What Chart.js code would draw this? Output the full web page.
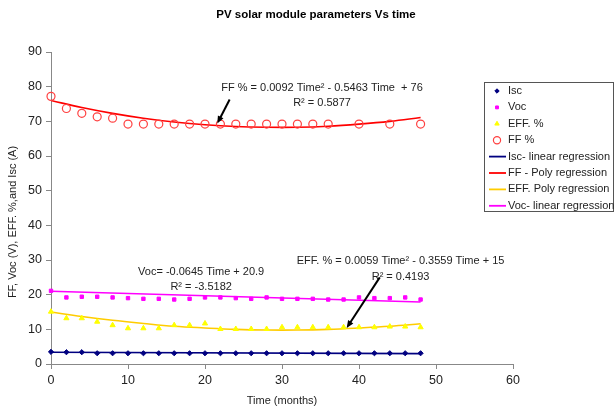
<!DOCTYPE html>
<html>
<head>
<meta charset="utf-8">
<script src="https://cdn.jsdelivr.net/npm/chart.js@4/dist/chart.umd.min.js"></script>
<style>
  html, body { margin: 0; padding: 0; background: #fff; }
  #wrap { width: 614px; height: 410px; position: relative; }
</style>
</head>
<body>
<div id="wrap"><canvas id="pvChart"></canvas></div>
<script>
// time (months)
const timeAll = [0, 2, 4, 6, 8, 10, 12, 14, 16, 18, 20, 22, 24, 26, 28, 30, 32, 34, 36, 38, 40, 42, 44, 46, 48];
const timeFF = [0, 2, 4, 6, 8, 10, 12, 14, 16, 18, 20, 22, 24, 26, 28, 30, 32, 34, 36, 40, 44, 48];

// measured values
const iscValues = [3.5, 3.4, 3.4, 3.1, 3.1, 3.1, 3.1, 3.1, 3.1, 3.1, 3.1, 3.1, 3.1, 3.1, 3.1, 3.1, 3.1, 3.1, 3.1, 3.1, 3.1, 3.1, 3.1, 3.1, 3.1];
const vocValues = [21.1, 19.2, 19.4, 19.4, 19.2, 19.0, 18.8, 18.8, 18.6, 18.8, 19.2, 19.2, 19.0, 18.8, 19.2, 18.8, 18.8, 18.8, 18.6, 18.6, 19.2, 19.0, 19.0, 19.2, 18.6];
const effValues = [15.1, 13.2, 13.2, 12.2, 11.2, 10.3, 10.3, 10.3, 11.2, 11.2, 11.7, 10.1, 10.1, 10.1, 10.1, 10.6, 10.6, 10.6, 10.6, 10.6, 10.6, 10.6, 10.8, 10.8, 10.6];
const ffValues = [77.2, 73.7, 72.3, 71.3, 70.9, 69.2, 69.2, 69.2, 69.2, 69.2, 69.2, 69.2, 69.2, 69.2, 69.2, 69.2, 69.2, 69.2, 69.2, 69.2, 69.2, 69.2];

// trend lines
const trendTime = [0, 4, 8, 12, 16, 20, 24, 28, 32, 36, 40, 44, 48];
const ffTrend = [76, 74, 72.3, 70.9, 69.8, 69, 68.5, 68.3, 68.3, 68.6, 69.2, 70, 71.1];
const effTrend = [15, 13.7, 12.6, 11.7, 10.9, 10.4, 10.0, 9.8, 9.8, 10.0, 10.4, 10.9, 11.6];
const linTime = [0, 48];
const iscTrend = [3.4, 3.0];
const vocTrend = [21.0, 17.9];

const FONT = "'Liberation Sans', Arial, sans-serif";

function pts(xs, ys) {
    return xs.map((x, i) => ({ x: x, y: ys[i] }));
}

const datasets = [
    { label: 'Isc', data: pts(timeAll, iscValues), pointStyle: 'rectRot', pointRadius: 2.6,
      backgroundColor: '#000080', borderColor: '#000080', borderWidth: 1, showLine: false, clip: false },
    { label: 'Voc', data: pts(timeAll, vocValues), pointStyle: 'rect', pointRadius: 2.4,
      backgroundColor: '#FF00FF', borderColor: '#FF00FF', borderWidth: 1, showLine: false, clip: false },
    { label: 'EFF. %', data: pts(timeAll, effValues), pointStyle: 'triangle', pointRadius: 3,
      backgroundColor: '#FFFF00', borderColor: '#FFFF00', borderWidth: 1, showLine: false, clip: false },
    { label: 'FF %', data: pts(timeFF, ffValues), pointStyle: 'circle', pointRadius: 4,
      backgroundColor: 'rgba(0,0,0,0)', borderColor: '#FF4040', borderWidth: 1.2, showLine: false, clip: false },
    { label: 'Isc- linear regression', data: pts(linTime, iscTrend), showLine: true, pointRadius: 0,
      borderColor: '#000080', borderWidth: 1.6, isLine: true },
    { label: 'FF - Poly regression', data: pts(trendTime, ffTrend), showLine: true, pointRadius: 0,
      borderColor: '#FF0000', borderWidth: 1.6, tension: 0.4, isLine: true },
    { label: 'EFF. Poly regression', data: pts(trendTime, effTrend), showLine: true, pointRadius: 0,
      borderColor: '#FFCC00', borderWidth: 1.6, tension: 0.4, isLine: true },
    { label: 'Voc- linear regression', data: pts(linTime, vocTrend), showLine: true, pointRadius: 0,
      borderColor: '#FF00FF', borderWidth: 1.6, isLine: true }
];

function arrow(ctx, x1, y1, x2, y2) {
    const ang = Math.atan2(y2 - y1, x2 - x1);
    const head = 8;
    ctx.save();
    ctx.strokeStyle = '#000';
    ctx.fillStyle = '#000';
    ctx.lineWidth = 2;
    ctx.beginPath();
    ctx.moveTo(x1, y1);
    ctx.lineTo(x2 - Math.cos(ang) * head * 0.7, y2 - Math.sin(ang) * head * 0.7);
    ctx.stroke();
    ctx.beginPath();
    ctx.moveTo(x2, y2);
    ctx.lineTo(x2 - head * Math.cos(ang - 0.4), y2 - head * Math.sin(ang - 0.4));
    ctx.lineTo(x2 - head * Math.cos(ang + 0.4), y2 - head * Math.sin(ang + 0.4));
    ctx.closePath();
    ctx.fill();
    ctx.restore();
}

const extras = {
    id: 'extras',
    afterDraw(chart) {
        const ctx = chart.ctx;
        const xs = chart.scales.x, ys = chart.scales.y;
        const X = v => xs.getPixelForValue(v), Y = v => ys.getPixelForValue(v);

        ctx.save();
        // title
        ctx.fillStyle = '#000';
        ctx.font = 'bold 11.5px ' + FONT;
        ctx.textAlign = 'center';
        ctx.textBaseline = 'middle';
        ctx.fillText('PV solar module parameters Vs time', 316, 15);

        // y title
        ctx.save();
        ctx.translate(13, 222);
        ctx.rotate(-Math.PI / 2);
        ctx.font = '11px ' + FONT;
        ctx.fillStyle = '#222';
        ctx.fillText('FF, Voc (V), EFF. %,and Isc (A)', 0, 0);
        ctx.restore();

        // equations
        ctx.font = '11px ' + FONT;
        ctx.fillStyle = '#222';
        ctx.fillText('FF % = 0.0092 Time² - 0.5463 Time  + 76', X(35.2), Y(79.6));
        ctx.fillText('R² = 0.5877', X(35.2), Y(75.2));
        ctx.fillText('Voc= -0.0645 Time + 20.9', X(19.5), Y(26.6));
        ctx.fillText('R² = -3.5182', X(19.5), Y(22.3));
        ctx.fillText('EFF. % = 0.0059 Time² - 0.3559 Time + 15', X(45.4), Y(29.8));
        ctx.fillText('R² = 0.4193', X(45.4), Y(25.2));

        arrow(ctx, X(23.2), Y(76.3), X(21.6), Y(69.4));
        arrow(ctx, X(42.7), Y(25.0), X(38.4), Y(10.4));

        // legend
        const lx = 484, ly = 82, lw = 129, lh = 129;
        ctx.fillStyle = '#fff';
        ctx.fillRect(lx, ly, lw, lh);
        ctx.strokeStyle = '#555';
        ctx.lineWidth = 1;
        ctx.strokeRect(lx + 0.5, ly + 0.5, lw, lh);
        ctx.textAlign = 'left';
        ctx.font = '11px ' + FONT;
        chart.data.datasets.forEach((ds, i) => {
            const cy = 91 + i * 16.4;
            if (ds.isLine) {
                ctx.strokeStyle = ds.borderColor;
                ctx.lineWidth = 1.8;
                ctx.beginPath();
                ctx.moveTo(489, cy);
                ctx.lineTo(506, cy);
                ctx.stroke();
            } else {
                ctx.fillStyle = ds.backgroundColor;
                ctx.strokeStyle = ds.borderColor;
                ctx.lineWidth = ds.borderWidth;
                Chart.helpers.drawPoint(ctx, {
                    pointStyle: ds.pointStyle,
                    radius: ds.pointStyle === 'circle' ? 3.6 : ds.pointRadius * 0.85,
                    borderWidth: ds.borderWidth
                }, 497, cy);
            }
            ctx.fillStyle = '#222';
            ctx.fillText(ds.label, 508, cy);
        });
        ctx.restore();
    }
};

new Chart(document.getElementById('pvChart'), {
    type: 'scatter',
    data: { datasets: datasets },
    plugins: [extras],
    options: {
        responsive: true,
        maintainAspectRatio: false,
        animation: false,
        layout: { padding: { left: 0, right: 101, top: 52, bottom: 0 } },
        plugins: { legend: { display: false }, tooltip: { enabled: false }, title: { display: false } },
        scales: {
            x: {
                type: 'linear', min: 0, max: 60,
                afterFit: s => { s.height = 46; },
                ticks: { stepSize: 10, color: '#222', font: { family: FONT, size: 12.5 }, padding: 4 },
                grid: { drawOnChartArea: false, drawTicks: true, tickLength: 5, color: '#888' },
                border: { display: true, color: '#888' },
                title: { display: true, text: 'Time (months)', color: '#222', font: { family: FONT, size: 11 }, padding: { top: 0, bottom: 2 } }
            },
            y: {
                type: 'linear', min: 0, max: 90,
                afterFit: s => { s.width = 51; },
                ticks: { stepSize: 10, color: '#222', font: { family: FONT, size: 12.5 }, padding: 4 },
                grid: { drawOnChartArea: false, drawTicks: true, tickLength: 5, color: '#888' },
                border: { display: true, color: '#888' }
            }
        }
    }
});
</script>
</body>
</html>
